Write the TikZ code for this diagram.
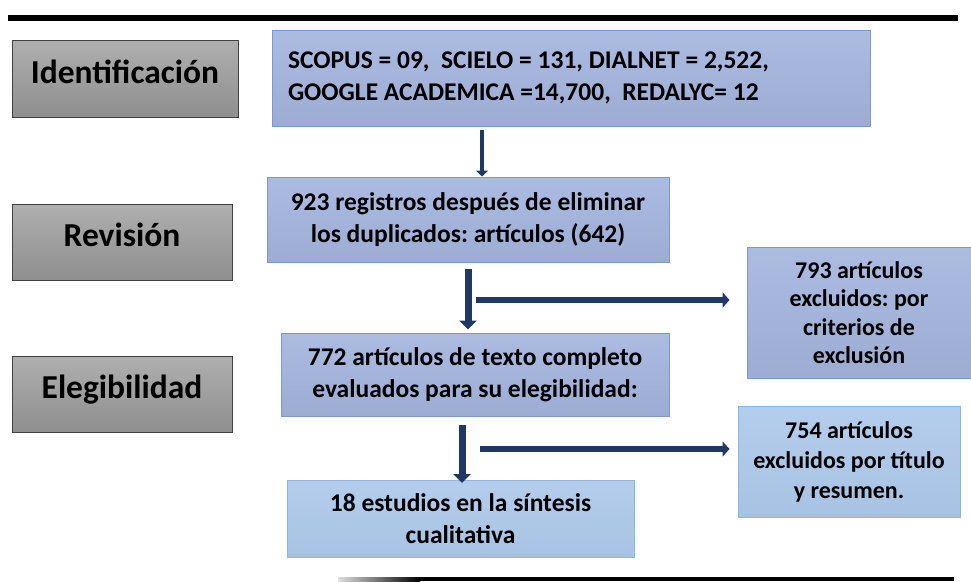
\documentclass[tikz,border=0pt]{standalone}
\usepackage{fontspec}
\setmainfont{Carlito}
\frenchspacing
\usetikzlibrary{arrows.meta, positioning}
\definecolor{navy}{HTML}{1F3864}
\definecolor{stagegray}{HTML}{9B9B9B}
\definecolor{upblue}{HTML}{A5B5DE}
\definecolor{upline}{HTML}{7C98D4}
\definecolor{lowblue}{HTML}{ADC8EA}
\definecolor{lowline}{HTML}{8AB6E4}
\newcommand{\txt}{\fontsize{25.5}{32}\selectfont\bfseries}
\newcommand{\smalltxt}{\fontsize{24}{28.5}\selectfont\bfseries}
\tikzset{
  stagebox/.style={draw=black!75, line width=0.8pt, top color=stagegray!80!white,
    bottom color=stagegray!92!black, minimum width=220pt, minimum height=76pt,
    text height=24pt, text depth=15pt,
    font=\fontsize{33.5}{38}\selectfont\bfseries},
  upbox/.style={draw=upline, line width=1pt, top color=upblue!92!white,
    bottom color=upblue!95!black, align=center, font=\txt},
  lowbox/.style={draw=lowline, line width=1pt, top color=lowblue!90!white,
    bottom color=lowblue!97!black, align=center, font=\txt},
  thinarr/.style={navy, line width=4.5pt, -{Triangle[width=12pt,length=6pt]}},
  bigarr/.style={navy, line width=7pt, -{Triangle[width=17pt,length=9pt]}},
  sidearr/.style={navy, line width=6pt, -{Triangle[width=15pt,length=7pt]}}
}
\begin{document}
\begin{tikzpicture}[x=1pt, y=-1pt]
\useasboundingbox (0,0) rectangle (971,581);
% stages
\node[stagebox, minimum width=226pt, minimum height=77pt] (iden) at (125,78.5) {Identificación};
\node[stagebox] (revi) at (122,242) {Revisión};
\node[stagebox] (eleg) at (122,394) {Elegibilidad};
% flow
\node[upbox, align=flush left, text width=566pt, inner xsep=16pt, minimum height=96pt] (fuentes) at (571,78)
  {SCOPUS = 09,\ \ SCIELO = 131, DIALNET = 2,522,\\ GOOGLE ACADEMICA =14,700,\ \ REDALYC= 12};
\node[upbox, minimum width=402pt, minimum height=85pt] (regis) at (468,219.5)
  {923 registros después de eliminar\\ los duplicados: artículos (642)};
\node[upbox, minimum width=388pt, minimum height=83pt] (texto) at (475,374.5)
  {772 artículos de texto completo\\ evaluados para su elegibilidad:};
\node[upbox, font=\smalltxt, minimum width=224pt, minimum height=131pt] (excl1) at (859,312.5)
  {793 artículos\\ excluidos: por\\ criterios de\\ exclusión};
\node[lowbox, font=\fontsize{24}{30}\selectfont\bfseries, minimum width=222pt, minimum height=111pt] (excl2) at (849,461.5)
  {754 artículos\\ excluidos por título\\ y resumen.};
\node[lowbox, minimum width=347pt, minimum height=77pt] (sint) at (460.5,519)
  {18 estudios en la síntesis\\ cualitativa};
% connectors
\coordinate (a1) at (482,0);
\coordinate (b1) at (476,300);
\coordinate (b2) at (480,449);
\draw[thinarr, shorten <=3pt] (a1 |- fuentes.south) -- (a1 |- regis.north);
\draw[bigarr, shorten <=6pt, shorten >=3pt] (regis.south) -- (regis.south |- texto.north);
\draw[bigarr, shorten <=8pt, shorten >=-3pt] (texto.south -| 462,0) -- (sint.north -| 462,0);
\draw[sidearr, shorten >=17pt] (b1) -- (b1 -| excl1.west);
\draw[sidearr, shorten >=8pt] (b2) -- (b2 -| excl2.west);
% rules
\draw[line width=6pt] (8,18) -- (958,18);
\shade[left color=gray!25, right color=black] (338,577) rectangle (420,581);
\fill (419.5,577) rectangle (954,581);
\end{tikzpicture}
\end{document}
